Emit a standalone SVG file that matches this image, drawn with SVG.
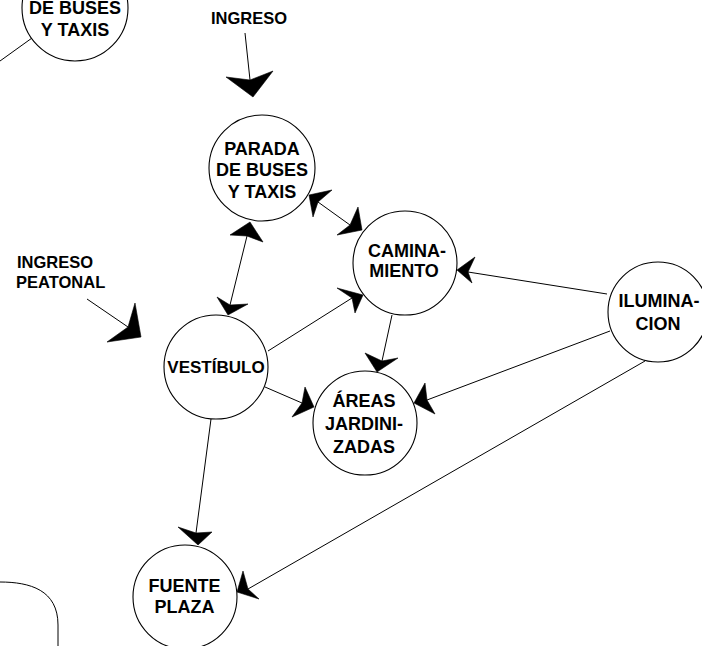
<svg xmlns="http://www.w3.org/2000/svg" width="702" height="646" viewBox="0 0 702 646">
<style>
.n{fill:#fff;stroke:#000;stroke-width:1.1}
.t{font-family:"Liberation Sans",Arial,sans-serif;font-weight:bold;font-size:18px;text-anchor:middle;fill:#000}
.l{font-family:"Liberation Sans",Arial,sans-serif;font-weight:bold;font-size:16.5px;fill:#000}
.c line,.c path{stroke:#000;stroke-width:1;fill:none}
.c polygon{fill:#000;stroke:#000;stroke-width:0.6;stroke-linejoin:miter}
</style>
<rect width="702" height="646" fill="#fff"/>
<g id="connectors" class="c">
<line x1="0" y1="61" x2="32" y2="38"/>
<path d="M0,582 C30,582 58,590 58,625 L58,646"/>
<line x1="245" y1="33" x2="250" y2="80"/>
<polygon points="253,97 226,77 250,80 273,71"/>
<line x1="87" y1="299" x2="128" y2="327"/>
<polygon points="141,337 135,303 128,327 107,342"/>
<line x1="318" y1="202" x2="350" y2="225"/>
<polygon points="309,195 332,190 318,202 313,217"/>
<polygon points="362,230 358,207 350,225 337,235"/>
<line x1="247" y1="236" x2="230" y2="305"/>
<polygon points="250,222 263,242 247,236 230,235"/>
<polygon points="228,315 217,297 230,305 248,304"/>
<line x1="268" y1="351" x2="352" y2="298"/>
<polygon points="363,295 337,288 352,298 355,313"/>
<line x1="468" y1="272" x2="607" y2="294"/>
<polygon points="457,270 475,257 468,272 472,283"/>
<line x1="392" y1="315" x2="382" y2="361"/>
<polygon points="377,372 365,353 382,361 398,358"/>
<line x1="265" y1="387" x2="302" y2="403"/>
<polygon points="314,407 305,387 302,403 292,417"/>
<line x1="427" y1="400" x2="610" y2="331"/>
<polygon points="414,403 425,383 427,400 435,414"/>
<line x1="211" y1="419" x2="196" y2="533"/>
<polygon points="198,545 178,527 196,533 212,532"/>
<line x1="248" y1="589" x2="645" y2="361"/>
<polygon points="237,592 243,571 248,589 259,599"/>
</g>
<g id="node-top-left">
<circle class="n" cx="75" cy="8" r="53"/>
<text class="t" x="75" y="14">DE BUSES</text>
<text class="t" x="75" y="36">Y TAXIS</text>
</g>
<g id="node-parada">
<circle class="n" cx="262" cy="168" r="53"/>
<text class="t" x="262" y="154.5">PARADA</text>
<text class="t" x="262" y="176">DE BUSES</text>
<text class="t" x="262" y="197.5">Y TAXIS</text>
</g>
<g id="node-caminamiento">
<circle class="n" cx="405" cy="263" r="52"/>
<text class="t" x="407" y="256.5">CAMINA-</text>
<text class="t" x="404" y="276.5">MIENTO</text>
</g>
<g id="node-iluminacion">
<circle class="n" cx="658" cy="312" r="50"/>
<text class="t" x="659" y="307">ILUMINA-</text>
<text class="t" x="658" y="330">CION</text>
</g>
<g id="node-vestibulo">
<circle class="n" cx="216" cy="367" r="52"/>
<text class="t" x="216" y="373" style="font-size:17px">VESTÍBULO</text>
</g>
<g id="node-areas">
<circle class="n" cx="365" cy="423" r="52"/>
<text class="t" x="364" y="407">ÁREAS</text>
<text class="t" x="364" y="430">JARDINI-</text>
<text class="t" x="364" y="453">ZADAS</text>
</g>
<g id="node-fuente">
<circle class="n" cx="185" cy="597" r="52"/>
<text class="t" x="184.5" y="592">FUENTE</text>
<text class="t" x="184.5" y="613">PLAZA</text>
</g>
<g id="label-ingreso">
<text class="l" x="249" y="24" text-anchor="middle">INGRESO</text>
</g>
<g id="label-peatonal">
<text class="l" x="17" y="268">INGRESO</text>
<text class="l" x="16" y="288">PEATONAL</text>
</g>
</svg>
